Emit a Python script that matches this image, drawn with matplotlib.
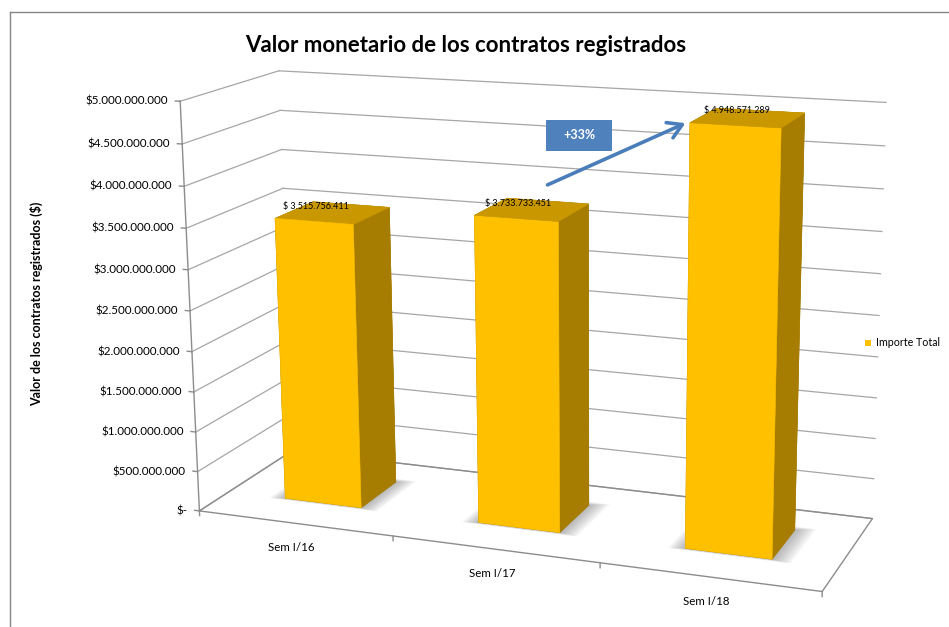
import numpy as np
import matplotlib
matplotlib.use("Agg")
import matplotlib.pyplot as plt
from matplotlib import transforms as mtransforms
from matplotlib.lines import Line2D
from matplotlib.patches import Rectangle, FancyArrowPatch
from mpl_toolkits.mplot3d.art3d import Poly3DCollection

plt.rcParams['font.family'] = ['Lato', 'DejaVu Sans']

# ---------------- data ----------------
categories = ["Sem I/16", "Sem I/17", "Sem I/18"]
values = [3515756411, 3733733451, 4948571289]
series_name = "Importe Total"
title = "Valor monetario de los contratos registrados"
y_title = "Valor de los contratos registrados ($)"
y_max = 5.0e9
y_step = 5.0e8
growth_label = "+33%"

yticks = np.arange(0, y_max + y_step / 2, y_step)
ytick_labels = ["$-" if t == 0 else "$" + f"{int(t):,}".replace(",", ".") for t in yticks]
value_labels = ["$ " + f"{v:,}".replace(",", ".") for v in values]

# ---------------- figure / 3D view ----------------
W, H = 949, 627
fig = plt.figure(figsize=(W / 100, H / 100), dpi=100)
fig.patch.set_facecolor('white')
ax = fig.add_axes([0, 0, 1, 1], projection='3d', computed_zorder=False)
ax.set_axis_off()
n = len(categories)
ax.set_xlim(0, n); ax.set_ylim(0, 1); ax.set_zlim(0, y_max)

# camera similar to the Excel 3-D rotation / perspective
ax.view_init(elev=14.64, azim=-68.97, roll=0.42)
ax.set_proj_type('persp', focal_length=0.5301)
ax.set_box_aspect((n, 0.9672, 1.9482))
bar_w, bar_y0, bar_d = 0.40, 0.309, 0.4115

# place the projected scene in the chart area
scale, shift_x, shift_y = 4256.7, 531.76, 313.2
fig.canvas.draw()
x0l, x1l = ax.viewLim.intervalx
y0l, y1l = ax.viewLim.intervaly
ax.set_position([(shift_x + scale * x0l) / W, (H - shift_y + scale * y0l) / H,
                 scale * (x1l - x0l) / W, scale * (y1l - y0l) / H])

# ---------------- walls, floor, axes ----------------
grid_kw = dict(color='#A6A6A6', lw=0.9, clip_on=False, zorder=1)
axis_kw = dict(color='#8C8C8C', lw=1.0, clip_on=False, zorder=2)
for t in yticks:
    ax.plot([0, 0], [0, 1], [t, t], **grid_kw)
    ax.plot([0, n], [1, 1], [t, t], **grid_kw)
ax.plot([0, n, n, 0, 0], [0, 0, 1, 1, 0], [0, 0, 0, 0, 0], **axis_kw)
ax.plot([0, 0], [0, 0], [0, y_max], **axis_kw)
for t in yticks:
    ax.plot([0, -0.025], [0, 0], [t, t], **axis_kw)
for k in range(n + 1):
    ax.plot([k, k], [0, 0], [0, -0.012 * y_max], **axis_kw)

# ---------------- soft shadows on the floor ----------------
for i in range(n):
    xa = i + 0.5 - bar_w / 2
    for m in np.linspace(0.075, 0.005, 10):
        quad = [[(xa - m, bar_y0 - 0.3 * m, 0), (xa + bar_w + 1.2 * m, bar_y0 - 0.3 * m, 0),
                 (xa + bar_w + 1.2 * m, bar_y0 + bar_d + 0.6 * m, 0), (xa - m, bar_y0 + bar_d + 0.6 * m, 0)]]
        sh = Poly3DCollection(quad, facecolor=(0.25, 0.25, 0.25, 0.045), edgecolor='none', zorder=3)
        ax.add_collection3d(sh)
        sh.set_clip_on(False)

# ---------------- bars ----------------
c_front, c_top, c_side = '#FFC000', '#C99700', '#A67D00'
face_cols = [c_side, c_top, c_front, c_side, c_side, c_side]   # -z, +z, -y, +y, -x, +x
for i, v in enumerate(values):
    col = ax.bar3d(i + 0.5 - bar_w / 2, bar_y0, 0, bar_w, bar_d, v, color=face_cols, shade=False,
                   edgecolor=face_cols, linewidth=0.4, zorder=5 + i)
    col.set_clip_on(False)
ax.set_xlim(0, n); ax.set_ylim(0, 1); ax.set_zlim(0, y_max)

# ---------------- texts placed through the 3-D projection ----------------
M = ax.get_proj()


def proj(x, y, z):
    v = M @ np.array([x, y, z, 1.0])
    return v[0] / v[3], v[1] / v[3]


def off(dx, dy):
    return mtransforms.offset_copy(ax.transData, fig=fig, x=dx, y=dy, units='dots')


for t, lab in zip(yticks, ytick_labels):
    px, py = proj(0, 0, t)
    ax.text2D(px, py, lab, transform=off(-12, 0), ha='right', va='center', fontsize=8.4, color='black')
for i, cat in enumerate(categories):
    px, py = proj(i + 0.5, 0, 0)
    ax.text2D(px, py, cat, transform=off(-3, -19), ha='center', va='top', fontsize=8.3, color='black')
for i, (v, lab) in enumerate(zip(values, value_labels)):
    px, py = proj(i + 0.5, bar_y0, v)
    ax.text2D(px, py, lab, transform=off(2, 10), ha='center', va='bottom', fontsize=6.5,
              color='black', zorder=20)

# ---------------- titles, legend, annotation ----------------
fig.text(466 / W, 1 - 45 / H, title, ha='center', va='center', fontsize=16, fontweight='bold')
fig.text(37 / W, 1 - 304 / H, y_title, ha='center', va='center', rotation=90, fontsize=9, fontweight='bold')

fig.add_artist(Line2D([9.5 / W, 9.5 / W], [0, 1 - 11.5 / H], color='#868686', lw=1))
fig.add_artist(Line2D([9.5 / W, 1], [1 - 11.5 / H] * 2, color='#868686', lw=1))

fig.add_artist(Rectangle((865 / W, 1 - 346 / H), 6 / W, 6 / H, transform=fig.transFigure,
                         facecolor=c_front, edgecolor='none'))
fig.text(876 / W, 1 - 343 / H, series_name, ha='left', va='center', fontsize=7.7)

fig.add_artist(FancyArrowPatch((545 / W, 1 - 186 / H), (688 / W, 1 - 122 / H), transform=fig.transFigure,
                               arrowstyle='->,head_length=0.5,head_width=0.3', mutation_scale=20,
                               lw=2.6, color='#4A7EBB'))
fig.add_artist(Rectangle((546 / W, 1 - 151 / H), 66 / W, 31 / H, transform=fig.transFigure,
                         facecolor='#4F81BD', edgecolor='none'))
fig.text(579 / W, 1 - 135 / H, growth_label, ha='center', va='center', fontsize=9, fontweight='bold',
         color='white')

fig.savefig("out.png", dpi=100)
